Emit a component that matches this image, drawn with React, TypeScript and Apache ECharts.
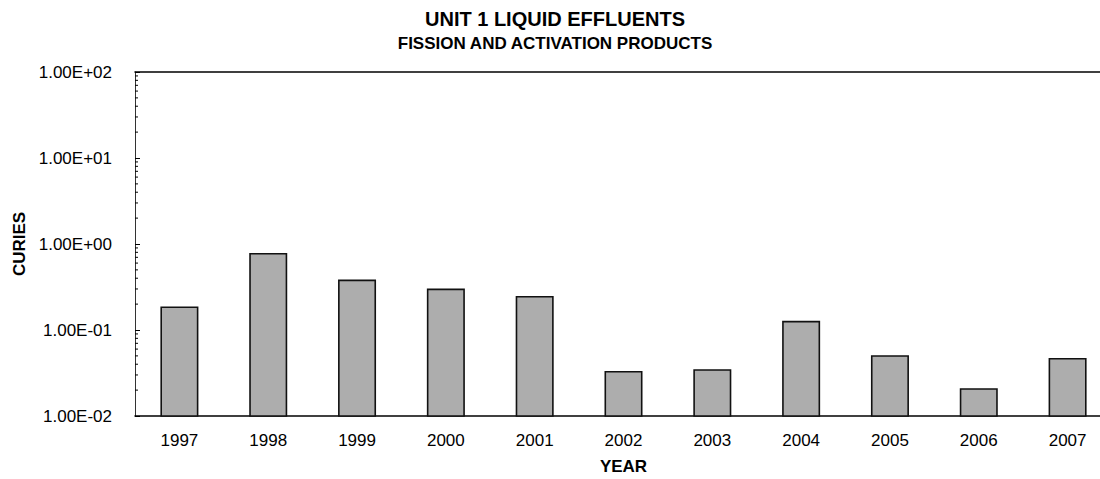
import React, { useEffect, useRef } from "react";
import * as echarts from "echarts";

const years = ["1997", "1998", "1999", "2000", "2001", "2002", "2003", "2004", "2005", "2006", "2007"];
const curies = [0.184, 0.77, 0.378, 0.297, 0.244, 0.0327, 0.0343, 0.125, 0.0499, 0.0206, 0.0464];
const yMin = 0.01;
const yMax = 100;
const decades = [0.01, 0.1, 1, 10];
const minorMultipliers = [2, 3, 4, 5, 6, 7, 8, 9];

const fmtExp = (v: number) => {
  const [m, e] = v.toExponential(2).split("e");
  const sign = e[0] === "-" ? "-" : "+";
  const digits = e.replace(/[+-]/, "").padStart(2, "0");
  return `${m.toUpperCase()}E${sign}${digits}`;
};

export default function App() {
  const ref = useRef<HTMLDivElement>(null);
  useEffect(() => {
    if (!ref.current) return;
    const chart = echarts.init(ref.current, null, { renderer: "svg" });
    const minorTicks: number[][] = [];
    decades.forEach((d) => minorMultipliers.forEach((m) => minorTicks.push([0, d * m])));
    const font = "'Liberation Sans', Arial, sans-serif";
    chart.setOption({
      animation: false,
      textStyle: { fontFamily: font },
      title: {
        text: "UNIT 1 LIQUID EFFLUENTS",
        subtext: "FISSION AND ACTIVATION PRODUCTS",
        left: 555,
        textAlign: "center",
        top: 9,
        itemGap: 6,
        padding: 0,
        textStyle: { fontSize: 20, fontWeight: "bold", color: "#000", fontFamily: font },
        subtextStyle: { fontSize: 17, fontWeight: "bold", color: "#000", fontFamily: font },
      },
      grid: { left: 135, width: 977, top: 72, height: 344, outerBoundsMode: "none", containLabel: false },
      xAxis: [
        {
          type: "category",
          data: years,
          name: "YEAR",
          nameLocation: "middle",
          nameGap: 42,
          nameTextStyle: { fontSize: 17, fontWeight: "bold", color: "#000", fontFamily: font },
          axisLine: { lineStyle: { color: "#000", width: 1.5 } },
          axisTick: { show: false },
          axisLabel: { fontSize: 17, color: "#000", margin: 16, fontFamily: font },
        },
        {
          type: "category",
          data: years,
          position: "top",
          axisLine: { show: true, lineStyle: { color: "#000", width: 1.5 } },
          axisTick: { show: false },
          axisLabel: { show: false },
        },
      ],
      yAxis: {
        type: "log",
        logBase: 10,
        min: yMin,
        max: yMax,
        name: "CURIES",
        nameLocation: "middle",
        nameGap: 107,
        nameRotate: 90,
        nameTextStyle: { fontSize: 17, fontWeight: "bold", color: "#000", fontFamily: font },
        axisLine: { show: true, lineStyle: { color: "#333", width: 1 } },
        axisTick: { show: true, inside: true, length: 5, lineStyle: { color: "#000" } },
        splitLine: { show: false },
        axisLabel: { fontSize: 17, color: "#000", margin: 23, formatter: (v: number) => fmtExp(v), fontFamily: font },
      },
      series: [
        {
          type: "custom",
          data: years.map((_, i) => [i, curies[i]]),
          renderItem: (params: any, api: any) => {
            const idx = api.value(0);
            const val = api.value(1);
            const top = api.coord([idx, val]);
            const base = api.coord([idx, yMin]);
            const w = api.size([1, 0])[0] * 0.41;
            return {
              type: "rect",
              shape: { x: top[0] - w / 2, y: top[1], width: w, height: base[1] - top[1] },
              style: { fill: "#adadad", stroke: "#111", lineWidth: 1.6 },
            };
          },
        },
        {
          type: "custom",
          data: minorTicks,
          silent: true,
          renderItem: (params: any, api: any) => {
            const p = api.coord([0, api.value(1)]);
            const x0 = params.coordSys.x;
            return {
              type: "line",
              shape: { x1: x0, y1: p[1], x2: x0 + 3, y2: p[1] },
              style: { stroke: "#000", lineWidth: 1 },
            };
          },
        },
      ],
    });
    return () => chart.dispose();
  }, []);
  return <div ref={ref} style={{ width: 1100, height: 479, position: "absolute", left: 0, top: 0 }} />;
}
